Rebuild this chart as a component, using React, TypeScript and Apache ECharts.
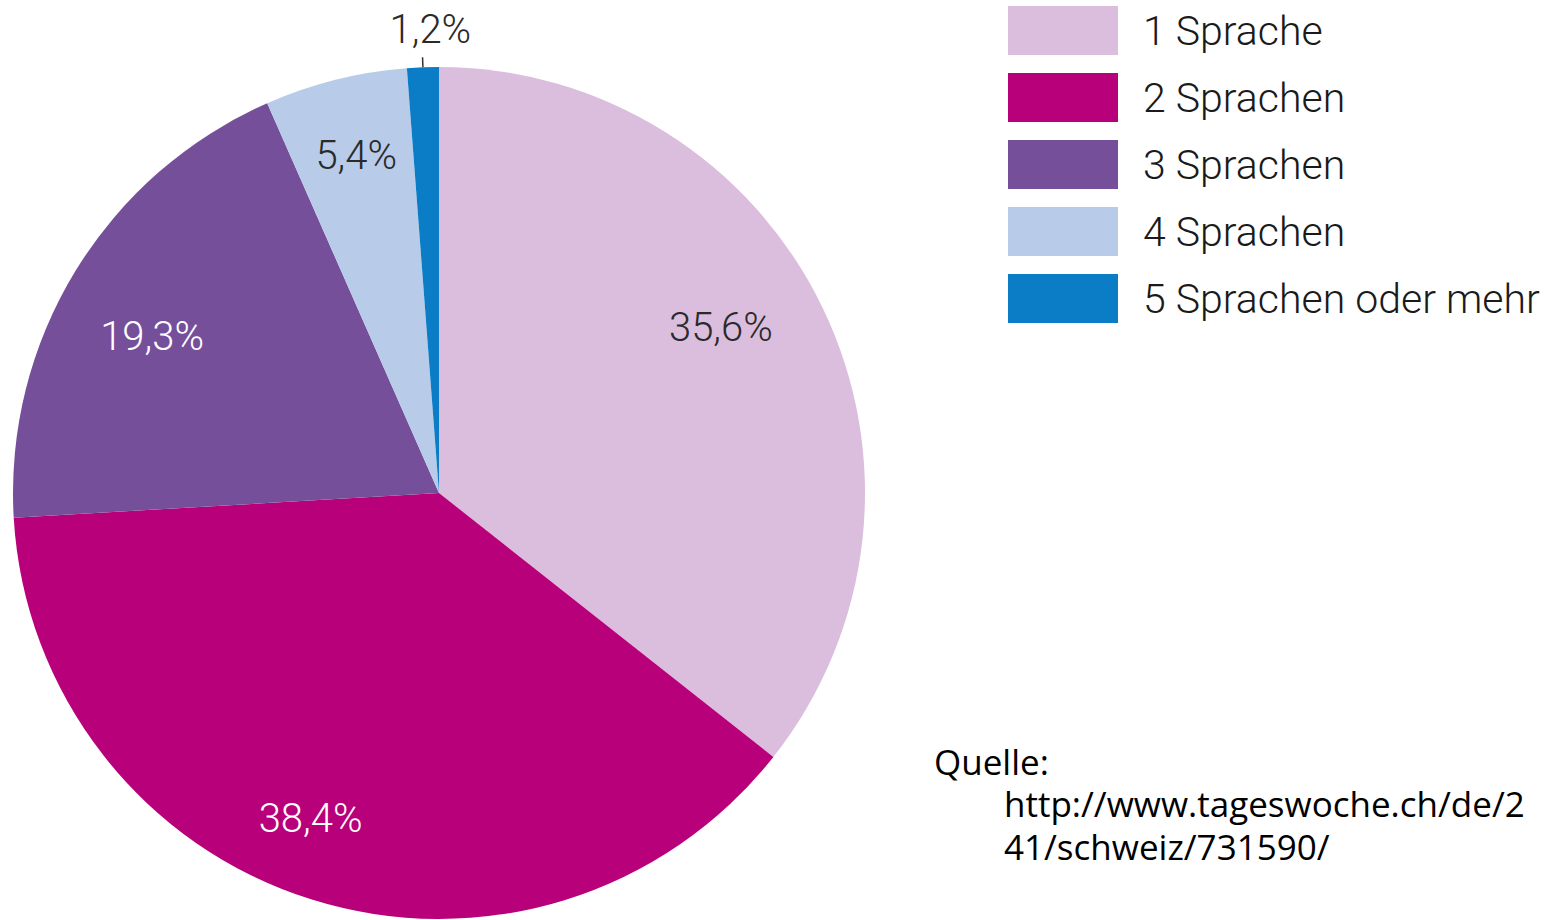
import React, { useEffect, useRef } from "react";
import * as echarts from "echarts";

const categories = ["1 Sprache", "2 Sprachen", "3 Sprachen", "4 Sprachen", "5 Sprachen oder mehr"];
const values = [35.6, 38.4, 19.3, 5.4, 1.2];
const colors = ["#dbbedd", "#b8007a", "#754f9a", "#b8cce9", "#0a7dc6"];
const labelColors = ["#2a2a2a", "#ffffff", "#ffffff", "#2a2a2a", "#2a2a2a"];
// small nudges of label text: horizontal via padding [top, right, bottom, left], vertical via empty line
const labelPads = [
  [0, 50, 0, 0],
  [0, 52, 0, 0],
  [0, 0, 0, 8],
  [0, 0, 0, 0],
  [0, 0, 0, 18],
];
const labelShiftY = [-17, 0, 21, -7, 4];
const sourceLines = ["Quelle:", "http://www.tageswoche.ch/de/2", "41/schweiz/731590/"];

const fmt = (v: number) => v.toFixed(1).replace(".", ",") + "%";

export default function App() {
  const ref = useRef<HTMLDivElement>(null);
  useEffect(() => {
    if (!ref.current) return;
    const chart = echarts.init(ref.current, null, { renderer: "svg" });
    const cx = 439;
    const cy = 493;
    const R = 426;
    const mkLabel = (i: number, show: boolean) => {
      const s = labelShiftY[i];
      const t = fmt(values[i]);
      const lab: any = { show, color: labelColors[i], padding: labelPads[i] };
      if (s !== 0) {
        lab.lineHeight = Math.abs(s) * 2;
        lab.formatter = s < 0 ? t + "\n" : "\n" + t;
      }
      return lab;
    };
    const mainData = categories.map((n, i) => ({
      name: n,
      value: values[i],
      itemStyle: { color: colors[i] },
      label: i === 4 ? { show: true, formatter: " " } : { show: false },
      labelLine: i === 4 ? { show: true, length: 10, length2: 0, lineStyle: { color: "#333", width: 1.5 } } : { show: false },
    }));
    const ghostInner = categories.map((n, i) => ({
      name: n,
      value: values[i],
      label: mkLabel(i, i < 4),
    }));
    const ghostOuter = categories.map((n, i) => ({
      name: n,
      value: values[i],
      label: mkLabel(i, i === 4),
    }));
    const labelFont = { fontFamily: "Roboto", fontWeight: 300, fontSize: 40 };
    chart.setOption({
      animation: false,
      backgroundColor: "#ffffff",
      legend: {
        orient: "vertical",
        left: 1003,
        top: 1,
        itemWidth: 110,
        itemHeight: 49,
        itemGap: 18,
        icon: "rect",
        selectedMode: false,
        data: categories,
        textStyle: { fontFamily: "Roboto", fontWeight: 300, fontSize: 41, color: "#1a1a1a", padding: [0, 0, 0, 20] },
      },
      series: [
        {
          type: "pie",
          center: [cx, cy],
          radius: [0, R],
          startAngle: 90,
          clockwise: true,
          silent: true,
          label: { position: "outside" },
          data: mainData,
        },
        {
          type: "pie",
          center: [cx, cy],
          radius: [250, R],
          startAngle: 90,
          clockwise: true,
          silent: true,
          itemStyle: { color: "rgba(0,0,0,0)" },
          label: { position: "inside", formatter: (p: any) => fmt(p.value), ...labelFont },
          labelLine: { show: false },
          data: ghostInner,
        },
        {
          type: "pie",
          center: [cx, cy],
          radius: [440, 490],
          startAngle: 90,
          clockwise: true,
          silent: true,
          itemStyle: { color: "rgba(0,0,0,0)" },
          label: { position: "inside", formatter: (p: any) => fmt(p.value), ...labelFont },
          labelLine: { show: false },
          data: ghostOuter,
        },
      ],
      graphic: [
        {
          type: "text",
          left: 934,
          top: 744,
          style: { text: sourceLines[0], fontFamily: "Open Sans", fontSize: 35, lineHeight: 35, fill: "#000" },
        },
        {
          type: "text",
          left: 1004,
          top: 786,
          style: { text: sourceLines[1], fontFamily: "Open Sans", fontSize: 35, lineHeight: 35, fill: "#000" },
        },
        {
          type: "text",
          left: 1004,
          top: 829,
          style: { text: sourceLines[2], fontFamily: "Open Sans", fontSize: 35, lineHeight: 35, fill: "#000" },
        },
      ],
    });
    return () => chart.dispose();
  }, []);
  return <div ref={ref} style={{ position: "fixed", left: 0, top: 0, width: 1565, height: 920 }} />;
}
